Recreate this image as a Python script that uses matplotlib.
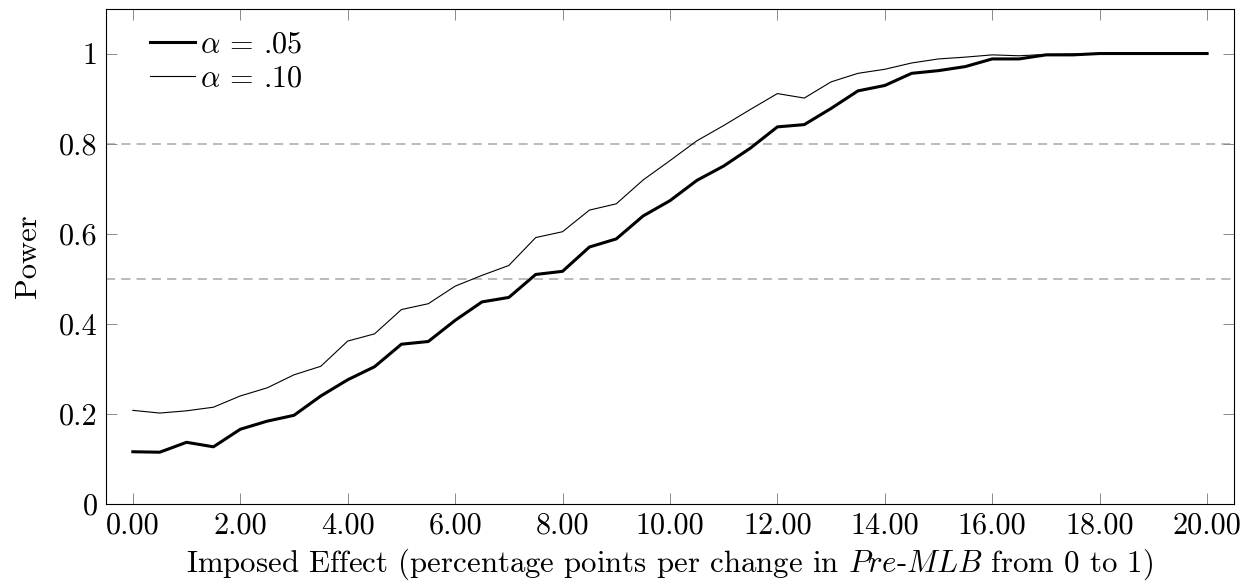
import numpy as np
import matplotlib
matplotlib.use("Agg")
import matplotlib.pyplot as plt

# imposed effect (percentage points)
effect = [0.0, 0.5, 1.0, 1.5, 2.0, 2.5, 3.0, 3.5, 4.0, 4.5,
          5.0, 5.5, 6.0, 6.5, 7.0, 7.5, 8.0, 8.5, 9.0, 9.5,
          10.0, 10.5, 11.0, 11.5, 12.0, 12.5, 13.0, 13.5, 14.0, 14.5,
          15.0, 15.5, 16.0, 16.5, 17.0, 17.5, 18.0, 18.5, 19.0, 19.5, 20.0]

power_05 = [0.115, 0.114, 0.136, 0.126, 0.165, 0.183, 0.196, 0.239, 0.275, 0.304,
            0.354, 0.360, 0.407, 0.448, 0.458, 0.509, 0.516, 0.570, 0.588, 0.639,
            0.673, 0.718, 0.750, 0.790, 0.837, 0.842, 0.878, 0.917, 0.929, 0.956,
            0.962, 0.971, 0.988, 0.988, 0.997, 0.997, 1.0, 1.0, 1.0, 1.0, 1.0]

power_10 = [0.207, 0.201, 0.206, 0.214, 0.239, 0.257, 0.286, 0.305, 0.361, 0.377,
            0.431, 0.444, 0.483, 0.507, 0.529, 0.591, 0.604, 0.652, 0.666, 0.719,
            0.762, 0.806, 0.840, 0.876, 0.911, 0.901, 0.937, 0.956, 0.965, 0.979,
            0.988, 0.992, 0.997, 0.995, 0.998, 0.999, 1.0, 1.0, 1.0, 1.0, 1.0]

ref_levels = [0.5, 0.8]

xtick_vals = [0, 2, 4, 6, 8, 10, 12, 14, 16, 18, 20]
xtick_labels = ['0.00', '2.00', '4.00', '6.00', '8.00', '10.00',
                '12.00', '14.00', '16.00', '18.00', '20.00']
ytick_vals = [0, 0.2, 0.4, 0.6, 0.8, 1.0]
ytick_labels = ['0', '0.2', '0.4', '0.6', '0.8', '1']

plt.rcParams['font.family'] = 'serif'
plt.rcParams['font.serif'] = ['cmr10']
plt.rcParams['mathtext.fontset'] = 'cm'
plt.rcParams['axes.formatter.use_mathtext'] = True

fig = plt.figure(figsize=(12.53, 5.88), dpi=100)
ax = fig.add_axes([0.0846, 0.1437, 0.9002, 0.8418])

for lvl in ref_levels:
    ax.axhline(lvl, color='#a8a8a8', lw=1.1, dashes=(6, 4), zorder=1)

ax.plot(effect, power_05, color='black', lw=2.2, label=r'$\alpha$ = .05', zorder=3)
ax.plot(effect, power_10, color='black', lw=0.8, label=r'$\alpha$ = .10', zorder=3)

ax.set_xlim(-0.5, 20.5)
ax.set_ylim(0, 1.1)
ax.set_xticks(xtick_vals)
ax.set_xticklabels(xtick_labels)
ax.set_yticks(ytick_vals)
ax.set_yticklabels(ytick_labels)

ax.tick_params(direction='in', length=8, width=0.7, color='#8a8a8a',
               top=True, right=True, labelsize=21.8, pad=6)
for sp in ax.spines.values():
    sp.set_linewidth(0.8)

ax.set_xlabel(r'Imposed Effect (percentage points per change in $\mathit{Pre}$-$\mathit{MLB}$ from 0 to 1)',
              fontsize=22.2, labelpad=5)
ax.set_ylabel('Power', fontsize=22, labelpad=12)

leg = ax.legend(loc='upper left', frameon=False, fontsize=21.8,
                handlelength=1.5, handletextpad=0.15, labelspacing=0.22,
                borderpad=0, borderaxespad=0, bbox_to_anchor=(0.039, 0.955))

fig.savefig('out.png', dpi=100)
